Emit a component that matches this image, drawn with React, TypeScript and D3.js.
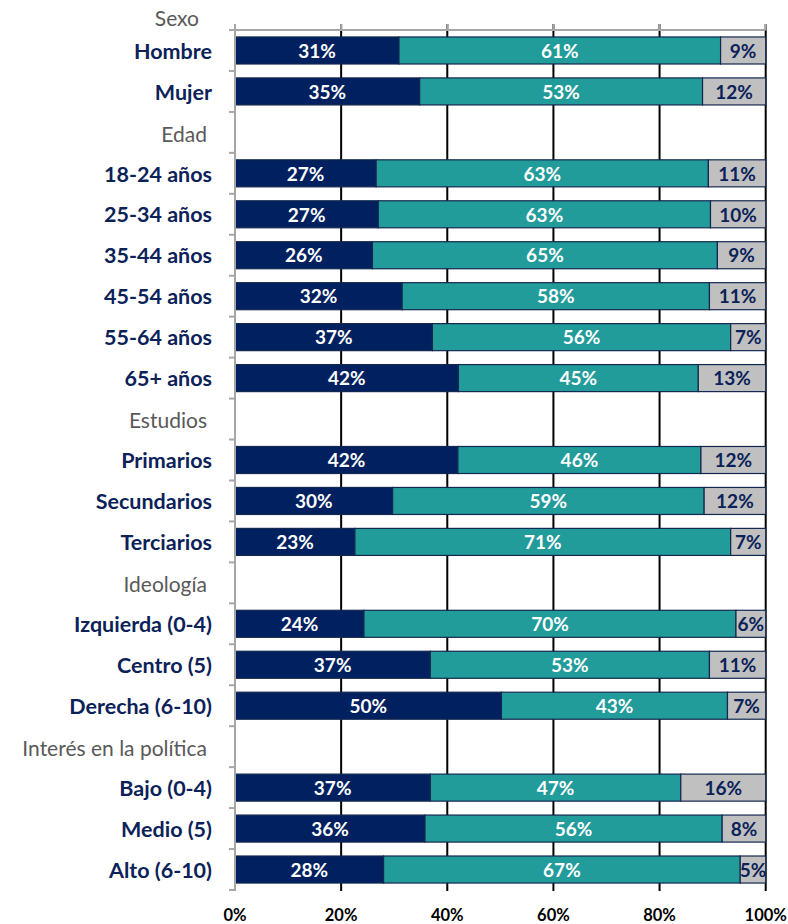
import React from "react";
import * as d3 from "d3";

// Rows of the chart (header rows have null values)
const categories: string[] = [
  "Hombre", "Mujer",
  "Edad",
  "18-24 años", "25-34 años", "35-44 años", "45-54 años", "55-64 años", "65+ años",
  "Estudios",
  "Primarios", "Secundarios", "Terciarios",
  "Ideología",
  "Izquierda (0-4)", "Centro (5)", "Derecha (6-10)",
  "Interés en la política",
  "Bajo (0-4)", "Medio (5)", "Alto (6-10)",
];
const headerRows: string[] = ["Edad", "Estudios", "Ideología", "Interés en la política"];
const topHeader = "Sexo";

const series1: (number | null)[] = [
  30.9, 34.8, null, 26.6, 27.0, 25.9, 31.5, 37.2, 42.1, null,
  42.0, 29.7, 22.6, null, 24.3, 36.8, 50.2, null, 36.8, 35.8, 28.0,
];
const series2: (number | null)[] = [
  60.6, 53.3, null, 62.6, 62.6, 65.0, 57.9, 56.2, 45.2, null,
  45.8, 58.7, 70.8, null, 70.1, 52.6, 42.6, null, 47.2, 56.0, 67.2,
];
const series3: (number | null)[] = [
  8.5, 11.9, null, 10.8, 10.4, 9.1, 10.6, 6.6, 12.7, null,
  12.2, 11.6, 6.6, null, 5.6, 10.6, 7.2, null, 16.0, 8.2, 4.8,
];
const xTicks: number[] = [0, 20, 40, 60, 80, 100];
const tickLabels: string[] = ["0%", "20%", "40%", "60%", "80%", "100%"];

const colors = ["#002060", "#229b9b", "#c0c0c0"];
const labelColors = ["#ffffff", "#ffffff", "#0b2259"];
const FONT = "Lato, 'Open Sans', sans-serif";

export default function App() {
  const W = 788, H = 924;
  const x0 = 235, x1 = 765.7, yTop = 30, yBot = 890;
  const x = d3.scaleLinear().domain([0, 100]).range([x0, x1]);
  const y = d3.scaleBand<string>().domain(categories).range([yTop, yBot])
    .paddingInner(0.34).paddingOuter(0.17);
  const step = y.step();
  const series = [series1, series2, series3];

  const bars: React.ReactNode[] = [];
  const labels: React.ReactNode[] = [];
  categories.forEach((c, i) => {
    if (series1[i] == null) return;
    let acc = 0;
    series.forEach((s, k) => {
      const v = s[i] as number;
      const xa = x(acc), xb = x(acc + v);
      bars.push(
        <rect key={`b${i}-${k}`} x={xa} y={y(c)!} width={xb - xa} height={y.bandwidth()}
          fill={colors[k]} stroke="#14284f" strokeWidth={1.2} />
      );
      labels.push(
        <text key={`l${i}-${k}`} x={(xa + xb) / 2} y={y(c)! + y.bandwidth() / 2}
          dy="0.38em" textAnchor="middle" fontFamily={FONT} fontWeight={700}
          fontSize={19} fill={labelColors[k]}>
          {Math.round(v)}%
        </text>
      );
      acc += v;
    });
  });

  const boundaries = d3.range(categories.length + 1).map((i) => yTop + i * step);

  return (
    <svg width={W} height={H} style={{ position: "absolute", left: 0, top: 0, background: "#fff" }}>
      {/* gridlines */}
      {xTicks.slice(1).map((t) => (
        <line key={`g${t}`} x1={x(t)} x2={x(t)} y1={yTop - 6} y2={yBot + 1} stroke="#000" strokeWidth={2} />
      ))}
      {/* top axis */}
      <line x1={x0} x2={x1} y1={yTop} y2={yTop} stroke="#a6a6a6" strokeWidth={2} />
      {xTicks.map((t) => (
        <line key={`tt${t}`} x1={x(t)} x2={x(t)} y1={yTop - 6} y2={yTop} stroke="#a6a6a6" strokeWidth={2} />
      ))}
      {bars}
      {/* left axis */}
      <line x1={x0} x2={x0} y1={yTop - 6} y2={yBot + 1} stroke="#a6a6a6" strokeWidth={2} />
      {boundaries.map((b, i) => (
        <line key={`lt${i}`} x1={x0 - 6} x2={x0} y1={b} y2={b} stroke="#a6a6a6" strokeWidth={2} />
      ))}
      {labels}
      {/* category labels */}
      {categories.map((c) => {
        const isHeader = headerRows.includes(c);
        return (
          <text key={`c${c}`} x={isHeader ? 207 : 212} y={y(c)! + y.bandwidth() / 2} dy={isHeader ? "0.45em" : "0.38em"}
            textAnchor="end" fontFamily={FONT} fontWeight={isHeader ? 400 : 700}
            fontSize={isHeader ? 21 : 21.5} fill={isHeader ? "#595959" : "#0b2259"}>
            {c}
          </text>
        );
      })}
      <text x={199} y={yTop - 12} dy="0.38em" textAnchor="end" fontFamily={FONT}
        fontSize={21} fill="#595959">{topHeader}</text>
      {/* x tick labels */}
      {xTicks.map((t, i) => (
        <text key={`xl${t}`} x={x(t)} y={915} dy="0.36em" textAnchor="middle" fontFamily={FONT}
          fontWeight={700} fontSize={16.5} fill="#000">{tickLabels[i]}</text>
      ))}
    </svg>
  );
}
